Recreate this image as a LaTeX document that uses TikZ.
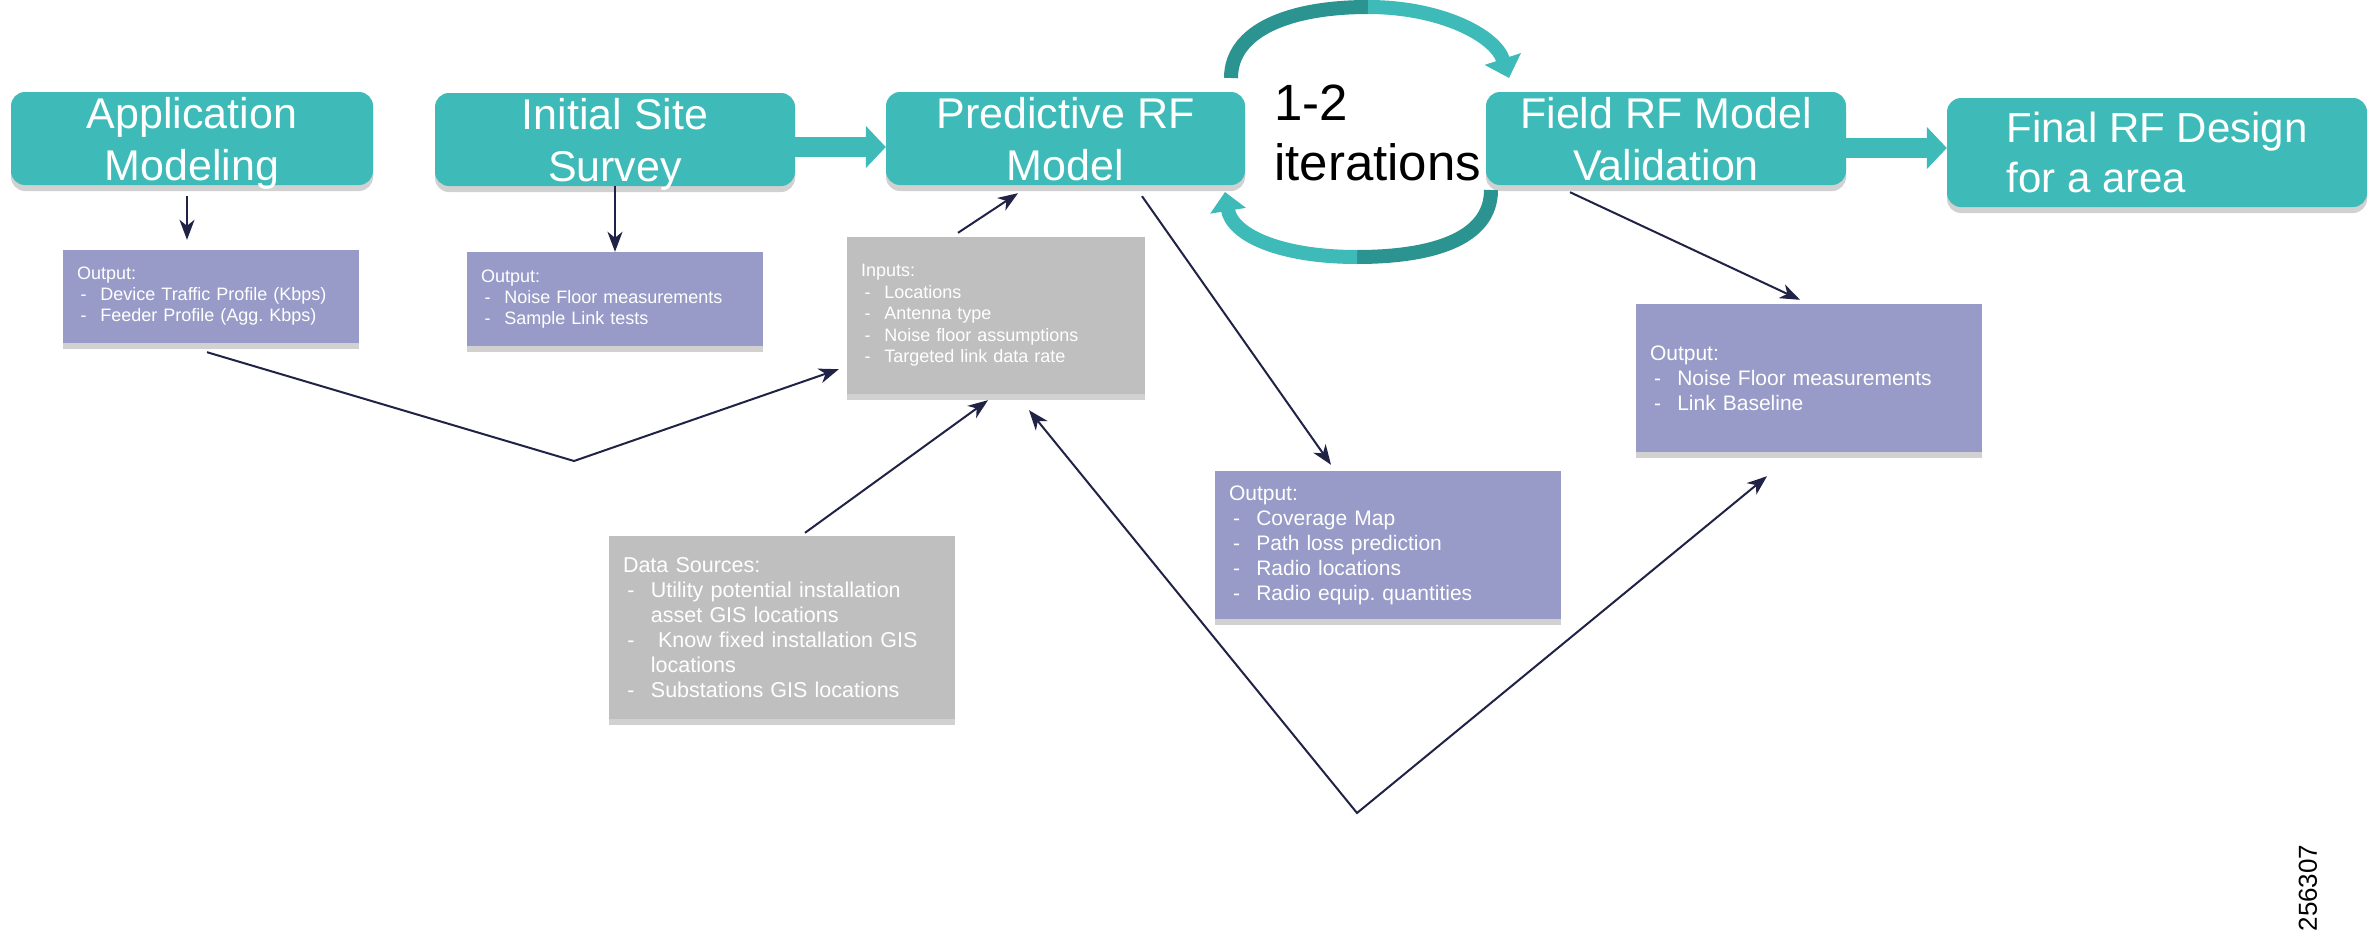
\documentclass[tikz,border=0pt]{standalone}
\usepackage{fontspec}
\setmainfont{Liberation Sans}
\usetikzlibrary{arrows.meta,shadows,calc}
\definecolor{tealbox}{RGB}{62,187,184}
\definecolor{tealdark}{RGB}{44,148,144}
\definecolor{purplebox}{RGB}{152,155,199}
\definecolor{graybox}{RGB}{191,191,191}
\definecolor{navy}{RGB}{32,35,70}
\newcommand{\dsh}{\makebox[1.3em][l]{\hspace{0.2em}-}}
\newcommand{\cnt}{\hspace*{1.3em}}
\frenchspacing
\begin{document}
\begin{tikzpicture}[x=1pt,y=-1pt,
  >={Stealth[length=20pt,width=15pt,inset=6pt]},
  stage/.style={fill=tealbox, rounded corners=14pt, text=white, align=center,
    font=\fontsize{43}{52}\selectfont, inner sep=0pt, text depth=0pt,
    drop shadow={shadow xshift=0pt, shadow yshift=-6pt, opacity=0.18, fill=black}},
  panel/.style={inner xsep=14pt, inner ysep=0pt, text=white, align=left,
    drop shadow={shadow xshift=0pt, shadow yshift=-6pt, opacity=0.18, fill=black}},
  outbox/.style={panel, fill=purplebox},
  inbox/.style={panel, fill=graybox},
  conn/.style={draw=navy, line width=2pt, ->},
  blockarrow/.style={draw=tealbox, line width=20pt, -{Triangle[width=41pt,length=20pt]}},
  ribbon/.style={line width=14pt},
  small/.style={font=\fontsize{18}{21}\selectfont},
  mid/.style={font=\fontsize{21}{25}\selectfont}
]
\useasboundingbox[fill=white] (0,0) rectangle (2369,934);

% stages
\node[stage, minimum width=362pt, minimum height=93pt] (app) at (192,138.5) {Application\\Modeling};
\node[stage, minimum width=360pt, minimum height=93pt] (iss) at (615,139.5) {Initial Site\\Survey};
\node[stage, minimum width=359pt, minimum height=93pt] (pred) at (1065.5,138.5) {Predictive RF\\Model};
\node[stage, minimum width=360pt, minimum height=93pt] (field) at (1666,138.5) {Field RF Model\\Validation};
\node[stage, align=left, minimum width=420pt, minimum height=109pt, font=\fontsize{42}{50}\selectfont] (final) at (2157,152.5) {Final RF Design\\for a area};

% panels
\node[outbox, small, text width=268pt, minimum height=93pt] (out1) at (211,296.5)
  {Output:\\\dsh Device Traffic Profile (Kbps)\\\dsh Feeder Profile (Agg. Kbps)};
\node[outbox, small, text width=268pt, minimum height=94pt] (out2) at (615,299)
  {Output:\\\dsh Noise Floor measurements\\\dsh Sample Link tests};
\node[inbox, font=\fontsize{18}{21.5}\selectfont, text width=270pt, minimum height=157pt] (inputs) at (996,315.5)
  {Inputs:\\\dsh Locations\\\dsh Antenna type\\\dsh Noise floor assumptions\\\dsh Targeted link data rate};
\node[inbox, font=\fontsize{21.5}{25}\selectfont, text width=318pt, minimum height=183pt] (ds) at (782,627.5)
  {Data Sources:\\\dsh Utility potential installation\\\cnt asset GIS locations\\\dsh \ Know fixed installation GIS\\\cnt locations\\\dsh Substations GIS locations};
\node[outbox, mid, text width=318pt, minimum height=148pt] (cov) at (1388,545)
  {Output:\\\dsh Coverage Map\\\dsh Path loss prediction\\\dsh Radio locations\\\dsh Radio equip. quantities};
\node[outbox, mid, text width=318pt, minimum height=148pt] (out3) at (1809,378)
  {Output:\\\dsh Noise Floor measurements\\\dsh Link Baseline};

% iterations text
\node[font=\fontsize{51}{60}\selectfont, align=left, anchor=north west, inner sep=0pt] (iter) at (1274,85) {1-2\\iterations};

% figure number
\node[rotate=90, font=\fontsize{26}{30}\selectfont, inner sep=0pt] (fignum) at (2308,888) {256307};

% block arrows
\draw[blockarrow] ([yshift=-7.5pt]iss.east) -- ([yshift=-7.5pt]iss.east -| pred.west);
\draw[blockarrow] ([yshift=-9.5pt]field.east) -- ([yshift=-9.5pt]field.east -| final.west);

% iteration loop
\coordinate (t0) at (1231,78);
\coordinate (t1) at (1368,7);
\coordinate (t2) at (1509,78);
\draw[ribbon, draw=tealdark] (t0) .. controls (1231,30) and (1290,7) .. (t1);
\draw[ribbon, draw=tealbox, -{Triangle[width=37pt,length=20pt]}] (t1) .. controls (1440,7) and (1495,35) .. (t2);
\coordinate (b0) at (1491,190);
\coordinate (b1) at (1357,257);
\coordinate (b2) at (1225,192);
\draw[ribbon, draw=tealdark] (b0) .. controls (1491,240) and (1430,257) .. (b1);
\draw[ribbon, draw=tealbox, -{Triangle[width=35pt,length=19pt]}] (b1) .. controls (1280,257) and (1232,235) .. (b2);

% connectors
\draw[conn, shorten <=11pt, shorten >=10pt] ([xshift=-5pt]app.south) -- ([xshift=-5pt]app.south |- out1.north);
\draw[conn] (iss.south) -- (iss.south |- out2.north);
\coordinate (v1) at (574,461);
\draw[conn] ($(out1.south)+(-4,9)$) -- (v1) -- ($(inputs.south west)+(-8,-25)$);
\draw[conn] ($(inputs.north)+(-38,-4)$) -- ($(pred.south)+(-47.5,8)$);
\draw[conn] ($(ds.north)+(23,-3)$) -- ($(inputs.south)+(-8,6)$);
\draw[conn] ($(pred.south)+(76.5,11)$) -- ($(cov.north)+(-57,-6)$);
\coordinate (v2) at (1357,813);
\draw[conn, <->] ($(inputs.south)+(33,16)$) -- (v2) -- ($(out3.south)+(-42,24)$);
\draw[conn] ($(field.south)+(-96,7)$) -- ($(out3.north)+(-9,-4)$);
\end{tikzpicture}
\end{document}
